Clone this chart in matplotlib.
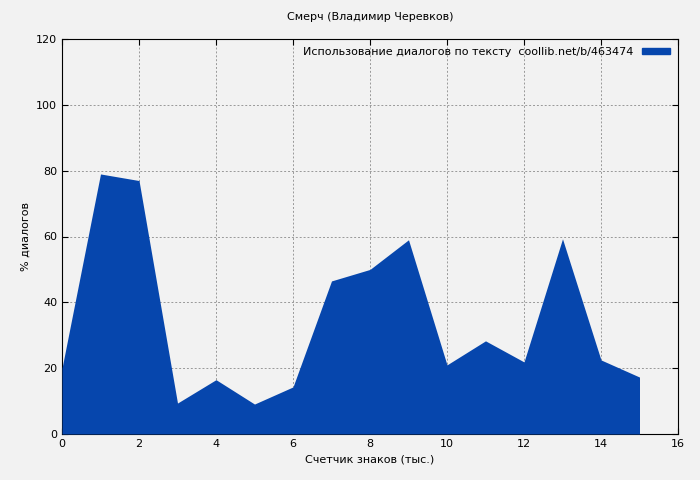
import matplotlib
matplotlib.use("Agg")
import matplotlib.pyplot as plt
from matplotlib.patches import Patch

# thousands of characters vs % dialogue
chars_k = [0, 1, 2, 3, 4, 5, 6, 7, 8, 9, 10, 11, 12, 13, 14, 15]
dialog_pct = [20, 79, 77, 9.4, 16.5, 9.1, 14.3, 46.5, 50, 59, 21, 28.3, 21.9, 59.3, 22.5, 17.3]

fig = plt.figure(figsize=(7, 4.8), dpi=100, facecolor="#f2f2f2")
ax = fig.add_axes([62 / 700, 46 / 480, 616 / 700, 395 / 480])
ax.set_facecolor("#f2f2f2")

ax.fill_between(chars_k, dialog_pct, 0, color="#0646ad", linewidth=0, zorder=3)

ax.set_xlim(0, 16)
ax.set_ylim(0, 120)
ax.set_xticks(range(0, 17, 2))
ax.set_yticks(range(0, 121, 20))
ax.grid(True, color="#999999", linestyle=(0, (2, 2)), linewidth=0.7, zorder=1)
ax.tick_params(labelsize=8, direction="in", length=4, top=True, right=True)
for s in ax.spines.values():
    s.set_color("#000000")
    s.set_linewidth(0.8)

ax.set_xlabel("Счетчик знаков (тыс.)", fontsize=8)
ax.set_ylabel("% диалогов", fontsize=8)
ax.set_title("Смерч (Владимир Черевков)", fontsize=8, pad=14)

ax.legend(handles=[Patch(color="#0646ad")],
          labels=["Использование диалогов по тексту  coollib.net/b/463474"],
          loc="upper right", fontsize=8, frameon=False, markerfirst=False,
          handlelength=2.5, handleheight=0.5, borderaxespad=0.3)

fig.savefig("out.png", dpi=100, facecolor=fig.get_facecolor())
